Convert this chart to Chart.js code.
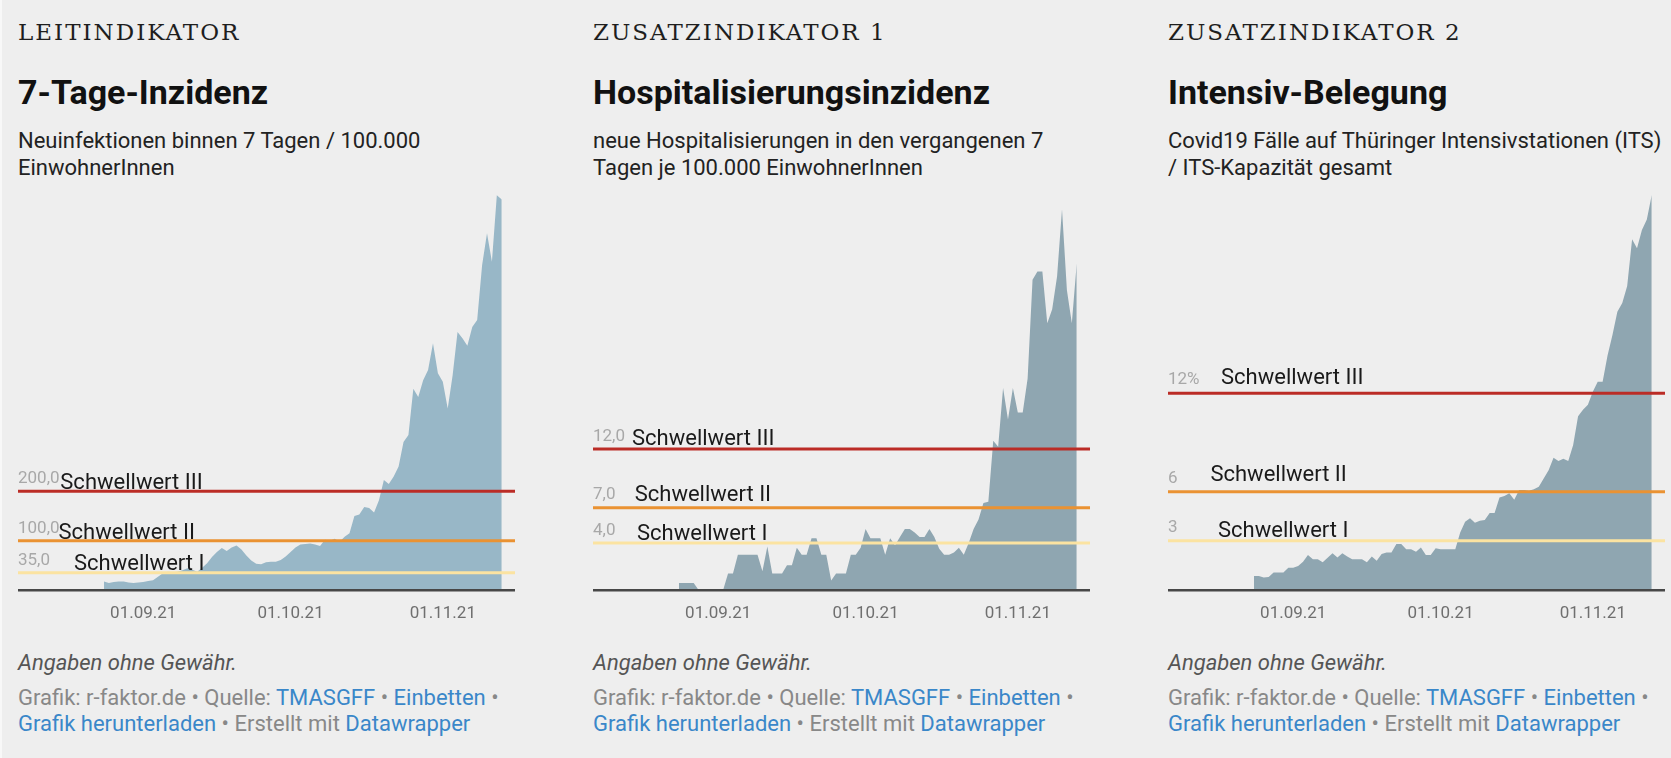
<!DOCTYPE html>
<html lang="de">
<head>
<meta charset="utf-8">
<title>Corona-Warnsystem Thüringen</title>
<script src="https://cdn.jsdelivr.net/npm/chart.js@4.4.0/dist/chart.umd.min.js"></script>
<style>
  html, body { margin: 0; padding: 0; }
  body {
    width: 1671px; height: 758px; overflow: hidden; position: relative;
    background: #eeeeee; font-family: Roboto, "Noto Sans", sans-serif; color: #1a1a1a;
  }
  .edge { position: absolute; left: 0; top: 0; width: 2px; height: 758px; background: #f8f8f8; }
  .panel { position: absolute; top: 0; width: 560px; height: 758px; }
  .kicker {
    position: absolute; top: 21px; left: 0; white-space: nowrap;
    font-family: "DejaVu Serif", serif; font-size: 23px; line-height: 23px; letter-spacing: 2px; color: #1e1e1e;
  }
  .title {
    position: absolute; top: 75px; left: 0; white-space: nowrap;
    font-size: 34px; line-height: 34px; font-weight: 700; color: #111;
  }
  .desc {
    position: absolute; top: 127px; left: 0; white-space: nowrap;
    font-size: 22px; line-height: 27px; color: #222;
  }
  .plot { position: absolute; top: 180px; left: 0; width: 497px; height: 460px; }
  .note {
    position: absolute; top: 650px; left: 0; white-space: nowrap;
    font-size: 22px; line-height: 26px; font-style: italic; color: #555;
  }
  .foot {
    position: absolute; top: 685px; left: 0; white-space: nowrap;
    font-size: 22px; line-height: 26px; color: #888;
  }
  .foot a { color: #3a87c9; text-decoration: none; }
</style>
</head>
<body>
<div class="edge"></div>

<div class="panel" style="left:18px">
  <div class="kicker">LEITINDIKATOR</div>
  <div class="title">7-Tage-Inzidenz</div>
  <div class="desc">Neuinfektionen binnen 7 Tagen / 100.000<br>EinwohnerInnen</div>
  <canvas class="plot" id="chart1" width="497" height="460"></canvas>
  <div class="note">Angaben ohne Gewähr.</div>
  <div class="foot">Grafik: r-faktor.de • Quelle: <a>TMASGFF</a> • <a>Einbetten</a> •<br><a>Grafik herunterladen</a> • Erstellt mit <a>Datawrapper</a></div>
</div>

<div class="panel" style="left:593px">
  <div class="kicker">ZUSATZINDIKATOR 1</div>
  <div class="title">Hospitalisierungsinzidenz</div>
  <div class="desc">neue Hospitalisierungen in den vergangenen 7<br>Tagen je 100.000 EinwohnerInnen</div>
  <canvas class="plot" id="chart2" width="497" height="460"></canvas>
  <div class="note">Angaben ohne Gewähr.</div>
  <div class="foot">Grafik: r-faktor.de • Quelle: <a>TMASGFF</a> • <a>Einbetten</a> •<br><a>Grafik herunterladen</a> • Erstellt mit <a>Datawrapper</a></div>
</div>

<div class="panel" style="left:1168px">
  <div class="kicker">ZUSATZINDIKATOR 2</div>
  <div class="title">Intensiv-Belegung</div>
  <div class="desc">Covid19 Fälle auf Thüringer Intensivstationen (ITS)<br>/ ITS-Kapazität gesamt</div>
  <canvas class="plot" id="chart3" width="497" height="460"></canvas>
  <div class="note">Angaben ohne Gewähr.</div>
  <div class="foot">Grafik: r-faktor.de • Quelle: <a>TMASGFF</a> • <a>Einbetten</a> •<br><a>Grafik herunterladen</a> • Erstellt mit <a>Datawrapper</a></div>
</div>

<script>
// daily values from 24.08.21 to 13.11.21
const firstDate = '2021-08-24';

const inzidenz = [
  17, 14, 16, 17, 17, 15, 14, 15, 16, 18, 20, 27, 34, 37, 36, 37, 40, 44, 41, 37,
  45, 54, 67, 77, 85, 79, 86, 90, 82, 70, 60, 53, 52, 56, 57, 57, 61, 68, 77, 86,
  92, 93, 94, 92, 89, 102, 100, 104, 98, 108, 115, 150, 153, 168, 166, 157, 182, 223, 215, 230,
  250, 300, 314, 408, 391, 425, 446, 500, 439, 422, 368, 435, 523, 510, 495, 533, 547, 658, 723, 665,
  800, 791
];

const hospitalisierung = [
  0.6, 0.6, 0.6, 0.6, 0, 0, 0, 0, 0, 0, 1.4, 1.4, 3.0, 3.0, 3.0, 3.0, 3.0, 1.6, 3.7, 1.4,
  1.4, 1.4, 2.1, 2.1, 3.6, 3.0, 3.0, 4.4, 4.4, 3.0, 3.0, 0.8, 1.4, 1.4, 1.4, 3.0, 3.0, 3.6, 5.2, 4.4,
  4.4, 4.4, 3.0, 4.4, 3.8, 4.5, 5.2, 5.2, 4.9, 4.5, 4.5, 5.2, 4.5, 3.5, 3.0, 3.0, 3.2, 3.6, 3.0, 4.0,
  5.2, 6.0, 7.4, 7.5, 12.7, 12.2, 17.2, 14.5, 17.2, 15.1, 15.1, 18.0, 26.4, 27.1, 27.1, 22.7, 23.9, 26.7, 32.4, 25.5,
  22.7, 27.8
];

const intensiv = [
  0.85, 0.85, 0.77, 0.8, 1.06, 1.06, 1.06, 1.36, 1.36, 1.46, 1.73, 2.13, 1.87, 1.87, 1.69, 1.97, 2.24, 1.99, 2.24, 2.04,
  1.87, 1.87, 1.87, 1.69, 2.04, 1.79, 2.2, 2.28, 2.28, 2.81, 2.81, 2.48, 2.48, 2.34, 2.6, 2.13, 2.13, 2.54, 2.48, 2.48,
  2.48, 2.48, 3.5, 4.17, 4.37, 4.1, 4.23, 4.27, 4.7, 4.7, 5.65, 5.74, 5.9, 5.5, 6.1, 6.1, 6.06, 6.14, 6.3, 6.8,
  7.3, 8.07, 7.87, 8.0, 7.87, 8.85, 10.6, 11.0, 11.3, 12.1, 12.7, 12.7, 14.3, 15.55, 16.97, 17.5, 18.55, 21.4, 20.85, 21.96,
  22.6, 24.1
];

// x axis ticks
const tickDates = ['2021-09-01', '2021-10-01', '2021-11-01'];
const tickLabels = ['01.09.21', '01.10.21', '01.11.21'];

// thresholds (Schwellwerte)
const thresholdNames = ['Schwellwert I', 'Schwellwert II', 'Schwellwert III'];
const inzidenzThresholds = [35, 100, 200];
const inzidenzThresholdLabels = ['35,0', '100,0', '200,0'];
const hospThresholds = [4, 7, 12];
const hospThresholdLabels = ['4,0', '7,0', '12,0'];
const itsThresholds = [3, 6, 12];
const itsThresholdLabels = ['3', '6', '12%'];

const thresholdColors = ['#fbe3a1', '#ea9232', '#bb2c26'];

const dayOf = (s) => {
  const [y, m, d] = s.split('-').map(Number);
  return (Date.UTC(y, m - 1, d) - Date.UTC(2021, 7, 1)) / 864e5;
};

const X_MIN = 5.5, X_MAX = 106.7;
const tickDays = tickDates.map(dayOf);

const thresholdLabelPlugin = {
  id: 'thresholdLabels',
  afterDatasetsDraw(chart, args, opts) {
    const { ctx, chartArea } = chart;
    const y = chart.scales.y;
    ctx.save();
    ctx.textBaseline = 'alphabetic';
    ctx.textAlign = 'left';
    opts.values.forEach((v, i) => {
      const py = y.getPixelForValue(v);
      ctx.font = '17px Roboto';
      ctx.fillStyle = '#a8a8a8';
      ctx.fillText(opts.valueLabels[i], chartArea.left, py + opts.valueDy[i]);
      ctx.font = '22px Roboto';
      ctx.fillStyle = '#1a1a1a';
      ctx.fillText(thresholdNames[i], chartArea.left + opts.nameDx[i], py + opts.nameDy[i]);
    });
    ctx.restore();
  }
};

const makeChart = (id, values, yMax, areaColor, thresholds, thresholdLabels, labelPos) => {
  const start = dayOf(firstDate);
  const ctx = document.getElementById(id).getContext('2d');

  const lineSets = thresholds.map((t, i) => ({
    data: [{ x: X_MIN, y: t }, { x: X_MAX, y: t }],
    borderColor: thresholdColors[i],
    borderWidth: 3,
    pointRadius: 0,
    fill: false,
    order: 0
  }));

  return new Chart(ctx, {
    type: 'line',
    data: {
      datasets: [
        ...lineSets,
        {
          data: values.map((v, i) => ({ x: start + i, y: v })),
          backgroundColor: areaColor,
          borderWidth: 0,
          pointRadius: 0,
          fill: 'origin',
          tension: 0,
          order: 1
        }
      ]
    },
    options: {
      responsive: false,
      animation: false,
      layout: { padding: { top: 10, left: 0, right: 0, bottom: 0 } },
      plugins: {
        legend: { display: false },
        tooltip: { enabled: false },
        thresholdLabels: {
          values: thresholds,
          valueLabels: thresholdLabels,
          valueDy: labelPos.valueDy,
          nameDx: labelPos.nameDx,
          nameDy: labelPos.nameDy
        }
      },
      scales: {
        x: {
          type: 'linear',
          min: X_MIN,
          max: X_MAX,
          grid: { display: false, drawTicks: false },
          border: { display: true, color: '#474747', width: 2.5, z: 1 },
          afterBuildTicks: (axis) => { axis.ticks = tickDays.map(v => ({ value: v })); },
          afterFit: (axis) => { axis.height = 50; },
          ticks: {
            autoSkip: false,
            maxRotation: 0,
            padding: 14,
            color: '#6f6f6f',
            font: { family: 'Roboto', size: 17 },
            callback: (v) => tickLabels[tickDays.indexOf(v)]
          }
        },
        y: {
          display: false,
          min: 0,
          max: yMax
        }
      }
    },
    plugins: [thresholdLabelPlugin]
  });
};

makeChart('chart1', inzidenz, 810.5, '#98b7c7', inzidenzThresholds, inzidenzThresholdLabels,
  { valueDy: [-8, -8, -8], nameDx: [56, 40.5, 42.3], nameDy: [-2.5, -1.5, -2] });
makeChart('chart2', hospitalisierung, 34.04, '#8fa6b1', hospThresholds, hospThresholdLabels,
  { valueDy: [-8, -9, -8], nameDx: [44, 41.7, 39], nameDy: [-3, -7, -4] });
makeChart('chart3', intensiv, 24.4, '#8fa6b1', itsThresholds, itsThresholdLabels,
  { valueDy: [-9, -9, -9], nameDx: [50, 42.4, 53], nameDy: [-4.3, -11, -9] });
</script>
</body>
</html>
